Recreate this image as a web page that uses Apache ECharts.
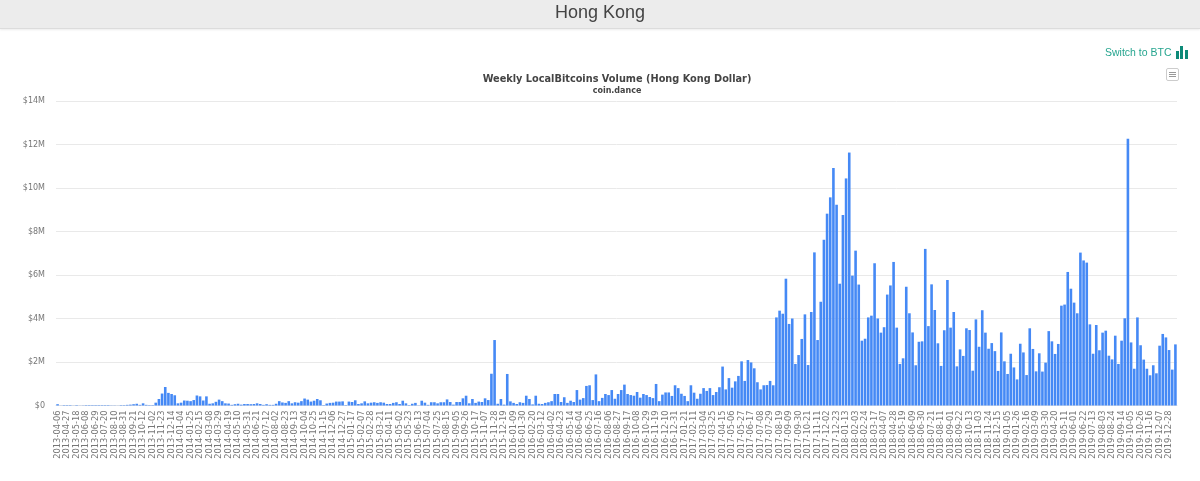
<!DOCTYPE html>
<html lang="en">

<head>
    <meta charset="UTF-8">
    <title>Hong Kong</title>
    <style>
        html, body { margin: 0; padding: 0; background: #fff; overflow: hidden; }
        #main { position: absolute; left: 0; top: 0; width: 1200px; height: 481px; }
        .header {
            position: absolute; left: 0; top: 0; width: 1200px; height: 28px; z-index: 2;
            background: #ececec; border-bottom: 1px solid #dcdcdc; box-shadow: 0 1px 2px rgba(0, 0, 0, 0.08);
            text-align: center; font: 18px/25px "Liberation Sans", sans-serif; color: #444;
        }
        .switch {
            position: absolute; left: 1105px; top: 45px; z-index: 2;
            font: 10.5px/14px "Liberation Sans", sans-serif; color: #26a58f;
        }
        .switch-icon span { position: absolute; z-index: 2; width: 3px; background: #0d8a78; }
        .menu-btn {
            position: absolute; left: 1166px; top: 68px; width: 11px; height: 11px; z-index: 2;
            border: 1px solid #cccccc; border-radius: 2px;
        }
        .menu-btn span { position: absolute; left: 2px; width: 7px; height: 1px; background: #999; }
    </style>
    <script src="https://cdn.jsdelivr.net/npm/echarts@6/dist/echarts.min.js"></script>
</head>

<body>
    <div class="header">Hong Kong</div>
    <div class="switch">Switch to BTC</div>
    <div class="switch-icon">
        <span style="left:1176px;top:51px;height:8px"></span>
        <span style="left:1180px;top:46px;height:13px"></span>
        <span style="left:1185px;top:50px;height:9px"></span>
    </div>
    <div class="menu-btn"><span style="top:3px"></span><span style="top:5px"></span><span style="top:7px"></span></div>
    <div id="main"></div>

    <script>
        // 每周一个柱子, 从 2013-04-06 开始
        const firstWeek = '2013-04-06';
        const tickStep = 2;
        const yTicks = { min: 0, max: 14, interval: 2 };

        // 交易量 (百万港元), 从图上读出来的
        const volume2013 = [
            0.06, 0.005, 0.02, 0.02, 0.02, 0.005, 0.02, 0.005, 0.01, 0.02, 0.02, 0.02, 0.02, 0.02, 0.02, 0.02,
            0.02, 0.01, 0.01, 0.005, 0.02, 0.02, 0.03, 0.04, 0.06, 0.08, 0.03, 0.1, 0.03, 0.02, 0.02, 0.13,
            0.3, 0.55, 0.85, 0.58, 0.53, 0.47
        ];
        const volume2014 = [
            0.1, 0.13, 0.23, 0.22, 0.2, 0.25, 0.46, 0.42, 0.23, 0.42, 0.08, 0.1, 0.17, 0.27, 0.2, 0.1,
            0.09, 0.03, 0.06, 0.08, 0.04, 0.07, 0.07, 0.06, 0.07, 0.1, 0.07, 0.03, 0.06, 0.03, 0.03, 0.08,
            0.2, 0.14, 0.12, 0.2, 0.1, 0.15, 0.13, 0.2, 0.32, 0.27, 0.18, 0.22, 0.3, 0.24, 0.02, 0.09,
            0.12, 0.13, 0.18, 0.18
        ];
        const volume2015 = [
            0.19, 0.02, 0.18, 0.16, 0.24, 0.07, 0.1, 0.19, 0.1, 0.13, 0.15, 0.12, 0.15, 0.13, 0.07, 0.07,
            0.12, 0.15, 0.07, 0.22, 0.1, 0.02, 0.08, 0.12, 0.01, 0.22, 0.13, 0.03, 0.15, 0.15, 0.1, 0.15,
            0.15, 0.28, 0.16, 0.04, 0.16, 0.16, 0.33, 0.45, 0.1, 0.3, 0.12, 0.18, 0.16, 0.33, 0.25, 1.46,
            3.01, 0.08, 0.3, 0.04
        ];
        const volume2016 = [
            1.45, 0.19, 0.12, 0.07, 0.15, 0.12, 0.45, 0.3, 0.05, 0.45, 0.08, 0.07, 0.12, 0.15, 0.2, 0.53,
            0.53, 0.16, 0.38, 0.12, 0.22, 0.16, 0.71, 0.27, 0.34, 0.9, 0.93, 0.25, 1.43, 0.2, 0.35, 0.53,
            0.48, 0.71, 0.31, 0.53, 0.71, 0.96, 0.53, 0.48, 0.45, 0.62, 0.36, 0.53, 0.48, 0.39, 0.34, 0.99,
            0.2, 0.5, 0.6, 0.6
        ];
        const volume2017 = [
            0.44, 0.93, 0.8, 0.54, 0.44, 0.2, 0.93, 0.59, 0.31, 0.54, 0.8, 0.67, 0.8, 0.48, 0.62, 0.84,
            1.79, 0.74, 1.26, 0.82, 1.11, 1.36, 2.03, 1.13, 2.09, 1.98, 1.71, 1.07, 0.74, 0.93, 0.94, 1.13,
            0.93, 4.05, 4.36, 4.22, 5.83, 3.75, 4.0, 1.91, 2.32, 3.06, 4.19, 1.86, 4.3, 7.04, 3.01, 4.77,
            7.62, 8.82, 9.57, 10.92, 9.23, 5.6
        ];
        const volume2018 = [
            8.76, 10.44, 11.63, 5.97, 7.12, 5.56, 2.98, 3.07, 4.05, 4.13, 6.54, 4.0, 3.35, 3.6, 5.1, 5.52,
            6.6, 3.58, 1.91, 2.17, 5.46, 4.24, 3.36, 1.85, 2.93, 2.95, 7.2, 3.65, 5.57, 4.39, 2.86, 1.82,
            3.46, 5.77, 3.58, 4.3, 1.8, 2.58, 2.28, 3.55, 3.47, 1.6, 3.96, 2.7, 4.38, 3.35, 2.61, 2.87,
            2.5, 1.59, 3.36, 2.03
        ];
        const volume2019 = [
            1.45, 2.38, 1.75, 1.2, 2.84, 2.44, 1.4, 3.55, 2.6, 1.57, 2.4, 1.56, 1.97, 3.42, 2.95, 2.37,
            2.83, 4.59, 4.64, 6.14, 5.37, 4.73, 4.24, 7.03, 6.67, 6.57, 3.73, 2.38, 3.7, 2.54, 3.35, 3.44,
            2.29, 2.12, 3.21, 1.91, 2.98, 4.01, 12.27, 2.9, 1.69, 4.05, 2.77, 2.11, 1.69, 1.39, 1.85, 1.48,
            2.75, 3.29, 3.13, 2.55, 1.65, 2.81
        ];
        const volume = [].concat(volume2013, volume2014, volume2015, volume2016, volume2017, volume2018, volume2019);

        // 生成周日期
        function weekLabels(start, count) {
            let labels = [];
            let t = Date.parse(start + 'T00:00:00Z');
            for (let i = 0; i < count; i++) {
                labels.push(new Date(t + i * 7 * 86400000).toISOString().slice(0, 10));
            }
            return labels;
        }
        const categories = weekLabels(firstWeek, volume.length);

        var myChart = echarts.init(document.getElementById('main'));

        var option = {
            animation: false,
            title: [
                {
                    text: 'Weekly LocalBitcoins Volume (Hong Kong Dollar)',
                    left: 612, top: 69, textAlign: 'center',
                    textStyle: { fontFamily: 'DejaVu Sans', fontSize: 9.75, fontWeight: 'bold', color: '#444' }
                },
                {
                    text: 'coin.dance',
                    left: 612, top: 82, textAlign: 'center',
                    textStyle: { fontFamily: 'DejaVu Sans', fontSize: 8, fontWeight: 'bold', color: '#444' }
                }
            ],
            grid: { left: 56, right: 23, top: 101, bottom: 75.5 },
            xAxis: {
                type: 'category',
                data: categories,
                axisLine: { lineStyle: { color: '#e6e6e6' } },
                axisTick: { show: false },
                axisLabel: {
                    interval: tickStep, rotate: 90, margin: 5,
                    fontFamily: 'DejaVu Sans', fontSize: 8.3, color: '#777'
                }
            },
            yAxis: {
                type: 'value',
                min: yTicks.min, max: yTicks.max, interval: yTicks.interval,
                axisLine: { show: false },
                axisTick: { show: false },
                splitLine: { lineStyle: { color: '#e9e9e9' } },
                axisLabel: {
                    margin: 11,
                    fontFamily: 'DejaVu Sans', fontSize: 8, color: '#777',
                    formatter: function (v) { return v === 0 ? '$0' : '$' + v + 'M'; }
                }
            },
            series: [
                {
                    name: 'Volume',
                    type: 'bar',
                    data: volume,
                    barWidth: 2.6,
                    itemStyle: { color: '#4589f5' }
                }
            ]
        };

        myChart.setOption(option);
    </script>
</body>

</html>
